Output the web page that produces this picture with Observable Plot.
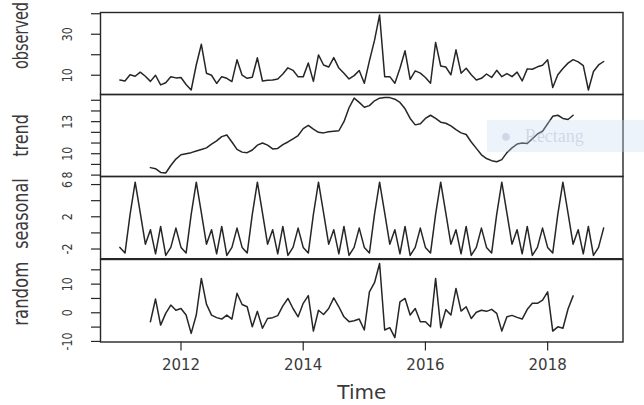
<!DOCTYPE html>
<html><head><meta charset="utf-8">
<script src="https://cdn.jsdelivr.net/npm/d3@7"></script>
<script src="https://cdn.jsdelivr.net/npm/@observablehq/plot@0.6"></script>
<style>
html,body{margin:0;padding:0;background:#fff;overflow:hidden}
#chart{position:relative;width:644px;height:405px;font-family:"DejaVu Sans",sans-serif}
#chart svg{position:absolute;left:0;overflow:visible}
.snip{position:absolute;left:487px;top:120px;width:157px;height:32px;background:rgba(200,218,244,0.32);overflow:hidden;white-space:nowrap;font-family:"Liberation Serif",serif;font-size:18px;line-height:32px;color:rgba(150,165,190,0.35)}
</style></head><body><div id="chart"></div><script>
// Monthly series, January 2011 .. December 2018
const startYear = 2011;
const observed = [7.7,7.2,10.2,9.5,11.5,9.5,7.0,10.0,5.3,6.3,9.3,8.7,
  8.9,5.5,2.8,15.0,25.1,11.0,10.0,6.0,9.3,8.5,6.9,17.5,
  10.0,8.5,9.0,18.5,7.2,7.5,7.7,8.2,10.6,13.6,12.4,9.2,
  9.2,16.0,7.0,19.9,15.0,14.0,18.6,13.5,11.0,8.2,9.8,12.3,
  6.1,17.0,27.0,39.4,9.3,9.3,6.1,13.4,21.9,8.0,12.1,11.0,
  8.9,6.1,26.0,14.5,14.0,10.2,22.4,11.0,13.4,10.2,7.7,8.5,
  10.6,8.9,12.4,9.3,10.8,9.3,11.5,7.2,13.1,12.9,14.1,14.9,
  17.5,4.0,10.2,13.3,15.9,17.6,16.5,14.7,2.8,11.8,15.0,16.7];
// trend and random start in July 2011 (month index 6) and end in June 2018
const componentStart = 6;
const trend = [8.7,8.6,8.25,8.2,8.9,9.5,9.9,10.0,10.1,10.25,
  10.4,10.55,10.9,11.2,11.6,11.75,11.1,10.4,10.15,10.1,
  10.35,10.8,11.0,10.8,10.45,10.5,10.85,11.1,11.4,11.7,
  12.35,12.65,12.3,12.0,11.95,12.05,12.1,12.15,13.0,14.3,
  15.2,14.8,14.35,14.5,14.95,15.2,15.25,15.25,15.1,14.8,
  14.2,13.3,12.7,12.8,13.3,13.6,13.3,12.95,12.85,12.6,
  12.25,11.95,11.8,11.1,10.5,9.9,9.55,9.35,9.25,9.45,
  10.1,10.55,10.9,11.0,10.95,11.4,11.85,12.1,12.8,13.5,
  13.6,13.3,13.2,13.6];
const seasonal = [
  -1.8,-2.5,2.3,6.3,2.5,-1.4,0.4,-2.6,0.8,-2.8,-1.8,0.6,
  -1.8,-2.5,2.3,6.3,2.5,-1.4,0.4,-2.6,0.8,-2.8,-1.8,0.6,
  -1.8,-2.5,2.3,6.3,2.5,-1.4,0.4,-2.6,0.8,-2.8,-1.8,0.6,
  -1.8,-2.5,2.3,6.3,2.5,-1.4,0.4,-2.6,0.8,-2.8,-1.8,0.6,
  -1.8,-2.5,2.3,6.3,2.5,-1.4,0.4,-2.6,0.8,-2.8,-1.8,0.6,
  -1.8,-2.5,2.3,6.3,2.5,-1.4,0.4,-2.6,0.8,-2.8,-1.8,0.6,
  -1.8,-2.5,2.3,6.3,2.5,-1.4,0.4,-2.6,0.8,-2.8,-1.8,0.6,
  -1.8,-2.5,2.3,6.3,2.5,-1.4,0.4,-2.6,0.8,-2.8,-1.8,0.6];
const random = [-3.1,4.8,-4.3,-0.2,2.7,0.9,1.5,-0.8,-7.2,-0.8,
  12.0,3.0,-0.8,-1.7,-2.2,-0.8,-2.2,6.8,2.9,2.1,
  -4.9,0.5,-5.4,-2.0,-1.7,-1.0,2.4,5.0,1.5,-1.4,
  3.3,6.0,-6.4,0.9,-0.6,1.5,5.2,2.1,-1.4,-3.1,
  -2.8,-2.2,-6.0,7.3,10.5,17.2,-6.0,-5.2,-8.7,3.8,
  5.0,-0.8,1.5,-3.1,-3.1,-4.9,12.0,-5.2,1.1,-0.8,
  8.5,0.6,2.1,-2.0,0.2,0.9,0.5,1.2,-0.2,-6.4,
  -1.4,-0.9,-1.6,-2.2,1.2,3.3,3.3,4.4,7.3,-6.4,
  -4.9,-5.4,1.3,5.9];

const panelNames = ["observed","trend","seasonal","random"];
const yTicks = [[10,20,30,40],[8,9,10,11,12,13,14,15],[-2,0,2,4,6],[-10,-5,0,5,10,15]];
const yLabels = [[10,30],[8,10,13],[-2,2,6],[-10,0,10]];
const xTicks = [2012,2014,2016,2018];

const toSeries = (arr, offset) => arr.map((v, k) => ({t: startYear + (k + offset) / 12, v}));
const series = [toSeries(observed,0), toSeries(trend,componentStart), toSeries(seasonal,0), toSeries(random,componentStart)];
const yDomains = [[0.6,40.6],[7.87,15.54],[-3.2,7.0],[-10.2,18.6]];
const panelTops = [12.3, 94.3, 176.3, 258.5, 341];
const labelShift = [-18, 0, -4, -7];
const labelSize = [14.5, 16, 16, 16.5];

const chart = document.getElementById("chart");
const ink = "#262626", txt = "#3a3a3a";
for (let p = 0; p < 4; p++) {
  const last = p === 3;
  const mt = 4, mb = last ? 405 - panelTops[4] : 4;
  const h = panelTops[p+1] - panelTops[p];
  const marks = [
    Plot.axisY({ticks: yTicks[p], tickSize: 9, tickFormat: () => "", label: null, stroke: ink, strokeWidth: 1.2}),
    Plot.text(yLabels[p], {y: d => d, text: d => String(d), frameAnchor: "left", dx: -33, rotate: -90,
      textAnchor: "middle", lineAnchor: "middle", fontSize: 11, fill: txt}),
    Plot.text([panelNames[p]], {frameAnchor: "left", dx: -79, dy: labelShift[p], rotate: -90,
      textAnchor: "middle", lineAnchor: "middle", fontSize: labelSize[p], fill: txt}),
    Plot.lineY(series[p], {x: "t", y: "v", stroke: ink, strokeWidth: 1.5}),
    Plot.frame({stroke: ink, strokeWidth: 1.4})
  ];
  if (last) {
    marks.push(Plot.axisX({ticks: xTicks, tickSize: 9, tickPadding: 8, tickFormat: d => String(d), label: null,
      fontSize: 15, stroke: ink, fill: txt, strokeWidth: 1.2}));
    marks.push(Plot.text(["Time"], {frameAnchor: "bottom", dy: 51, fontSize: 20, lineAnchor: "middle", fill: txt}));
  }
  const svg = Plot.plot({
    width: 644, height: h + mt + mb,
    marginTop: mt, marginBottom: mb, marginLeft: 100, marginRight: 21.5,
    x: {domain: [2010.683, 2019.233], axis: null},
    y: {domain: yDomains[p], axis: null},
    style: {background: "transparent", fontFamily: "DejaVu Sans", color: txt, overflow: "visible"},
    marks
  });
  // the reference's rotated texts are horizontally stretched: widen their glyphs
  svg.querySelectorAll("text").forEach(t => {
    const tr = t.getAttribute("transform") || "";
    if (!tr.includes("rotate")) return;
    const s = t.textContent;
    if (s === panelNames[p]) t.setAttribute("transform", tr + ` scale(1,${(1.35 * 16 / labelSize[p]).toFixed(3)})`);
    else if (s !== "") t.setAttribute("transform", tr + " scale(1,1.3)");
  });
  svg.style.top = (panelTops[p] - mt) + "px";
  chart.appendChild(svg);
}
const snip = document.createElement("div");
snip.className = "snip";
snip.innerHTML = "&nbsp;&nbsp;&nbsp;● &nbsp;&nbsp;Rectang";
chart.appendChild(snip);
</script></body></html>
